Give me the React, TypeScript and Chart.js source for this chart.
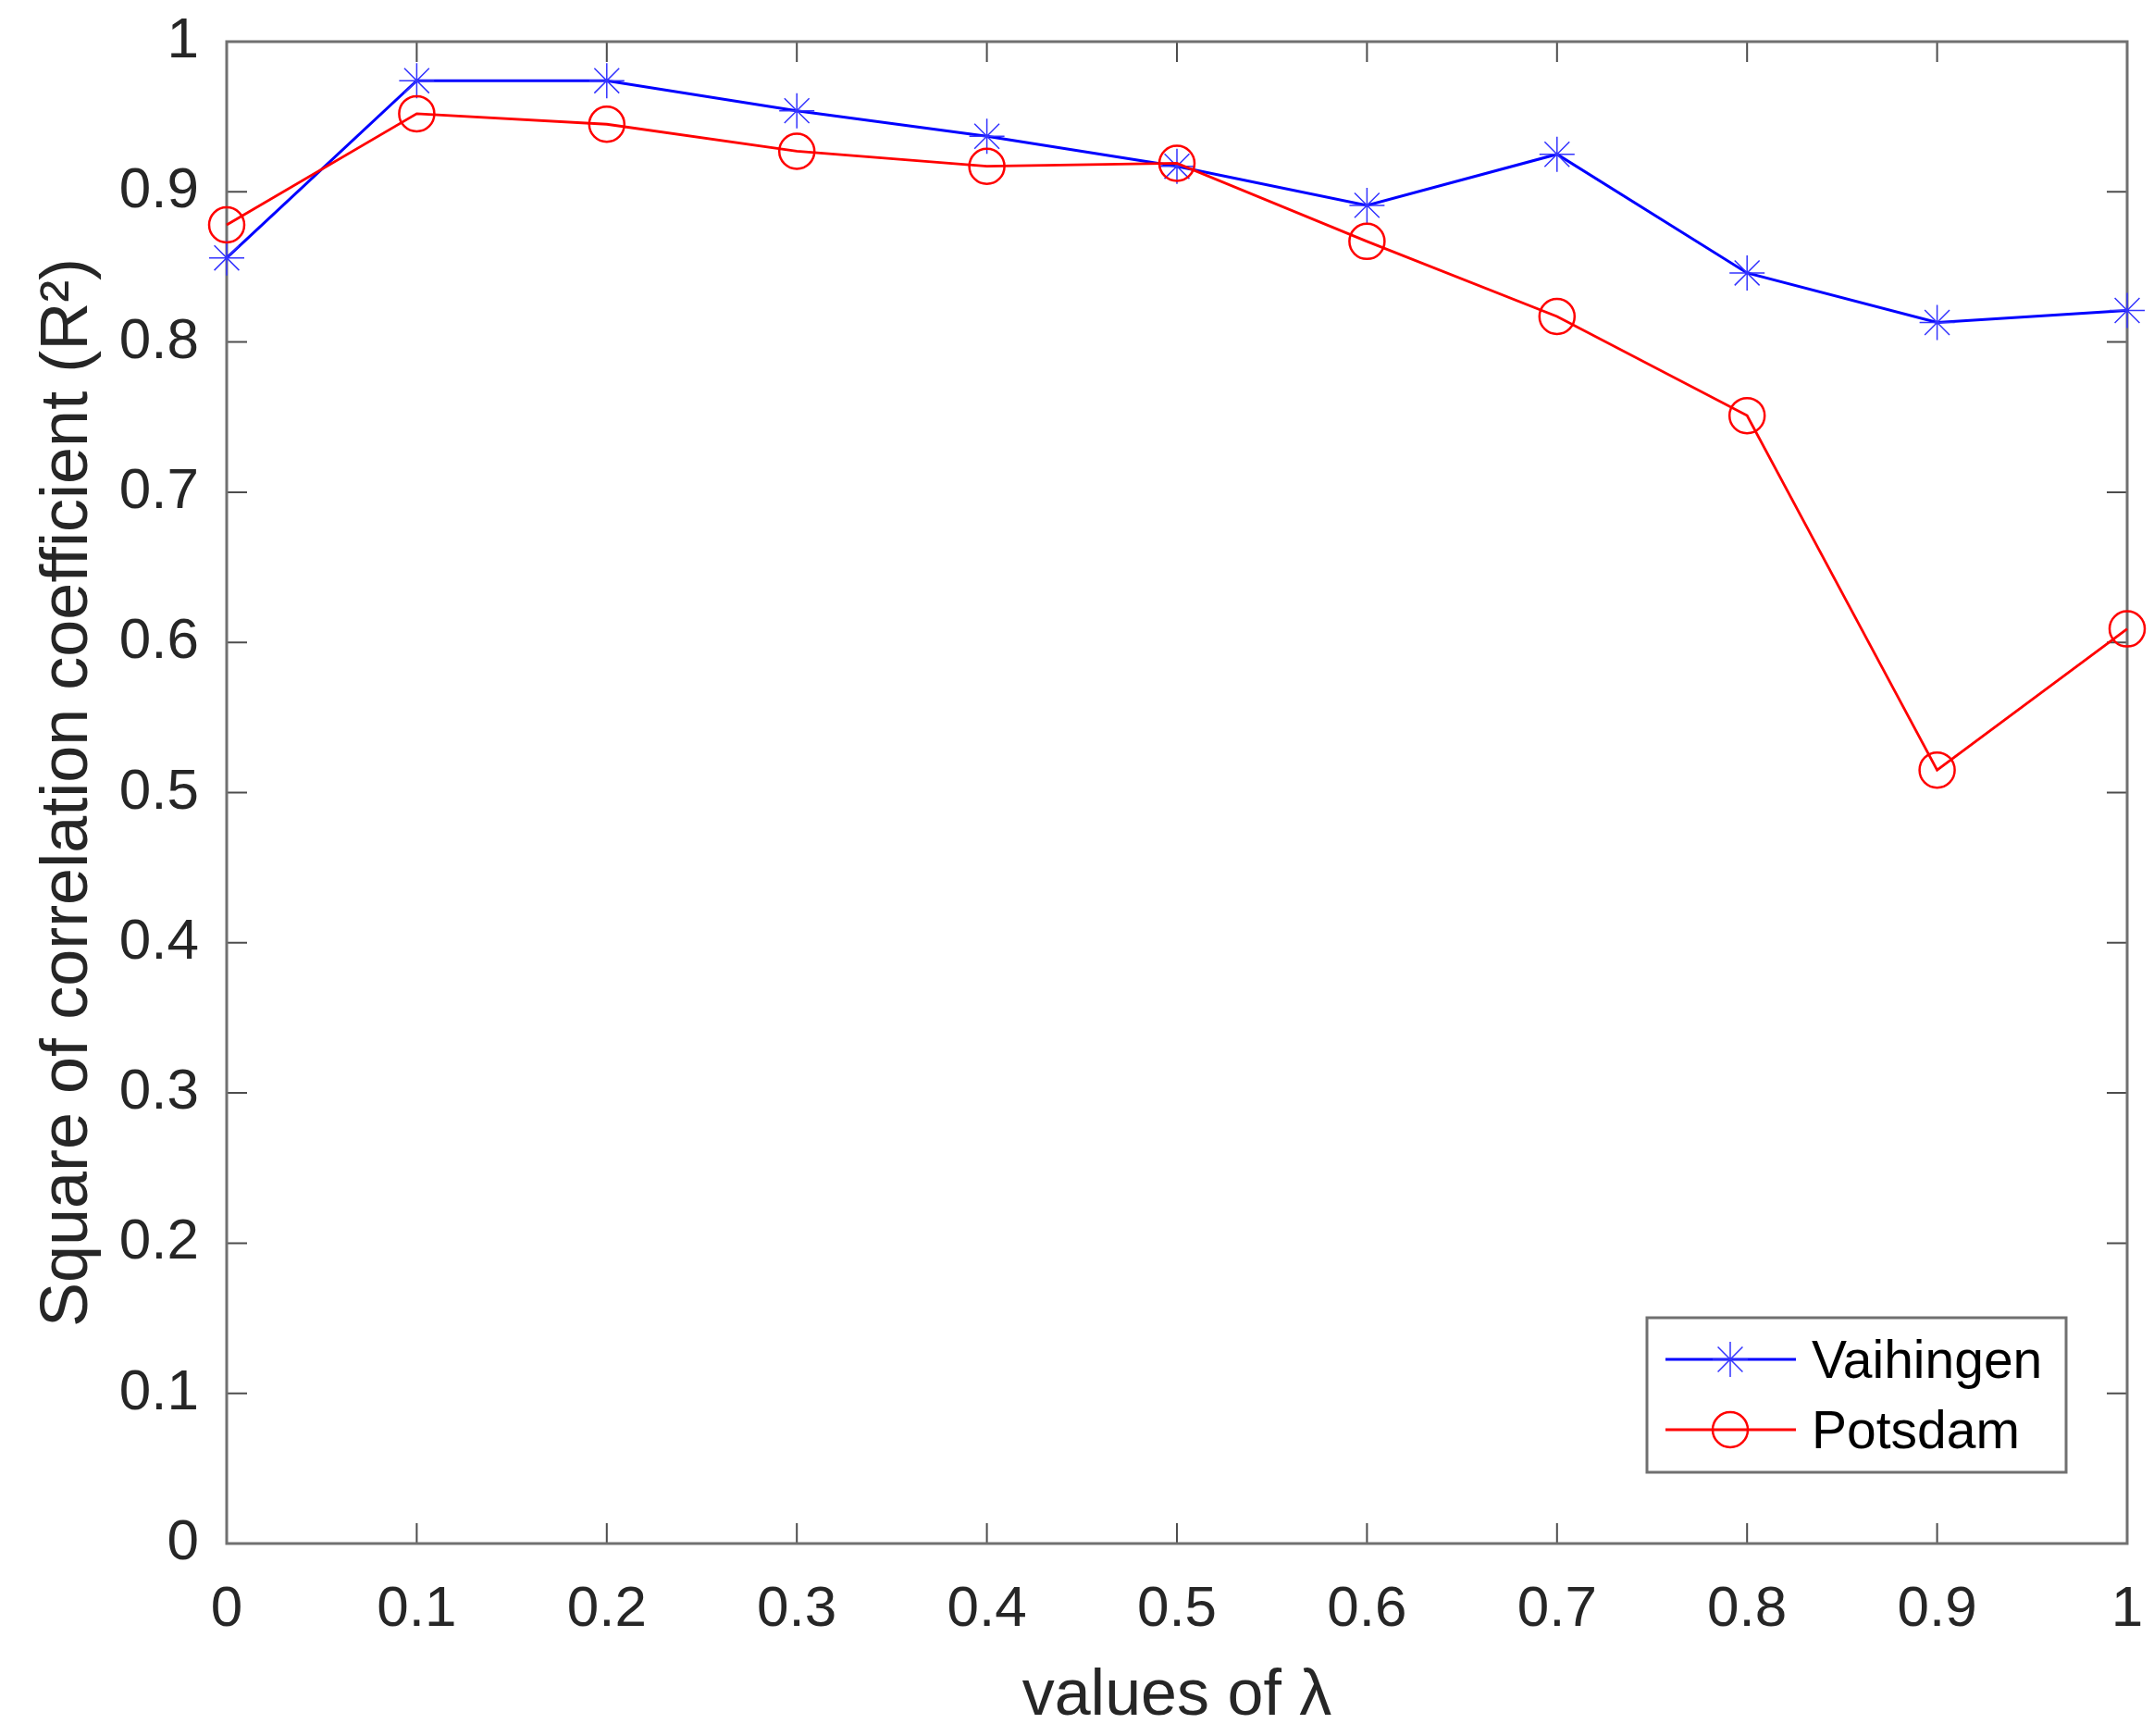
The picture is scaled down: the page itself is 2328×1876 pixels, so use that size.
import { useEffect, useRef } from "react";
import { Chart, registerables, type Plugin } from "chart.js";

Chart.register(...registerables);

const lambdaValues = [0, 0.1, 0.2, 0.3, 0.4, 0.5, 0.6, 0.7, 0.8, 0.9, 1];
const vaihingenR2 = [0.856, 0.974, 0.974, 0.954, 0.937, 0.917, 0.891, 0.925, 0.846, 0.813, 0.821];
const potsdamR2 = [0.878, 0.952, 0.945, 0.927, 0.917, 0.919, 0.867, 0.817, 0.751, 0.515, 0.609];
const xTickValues = [0, 0.1, 0.2, 0.3, 0.4, 0.5, 0.6, 0.7, 0.8, 0.9, 1];
const yTickValues = [0, 0.1, 0.2, 0.3, 0.4, 0.5, 0.6, 0.7, 0.8, 0.9, 1];
const seriesNames = ["Vaihingen", "Potsdam"];

const W = 2328;
const H = 1876;
const FONT = '"Liberation Sans", Arial, Helvetica, sans-serif';
const TEXT = "#262626";

function drawStar(ctx: CanvasRenderingContext2D, x: number, y: number, r: number) {
  ctx.beginPath();
  ctx.moveTo(x - r, y);
  ctx.lineTo(x + r, y);
  ctx.moveTo(x, y - r);
  ctx.lineTo(x, y + r);
  const d = r * Math.SQRT1_2;
  ctx.moveTo(x - d, y - d);
  ctx.lineTo(x + d, y + d);
  ctx.moveTo(x - d, y + d);
  ctx.lineTo(x + d, y - d);
  ctx.stroke();
}

// box round the plot with inward ticks on all four sides (MATLAB style)
const axisBox: Plugin<"line"> = {
  id: "axisBox",
  beforeDatasetsDraw(chart) {
    const { ctx, chartArea: a, scales } = chart;
    ctx.save();
    ctx.strokeStyle = "#4d4d4d";
    ctx.lineWidth = 2;
    ctx.beginPath();
    xTickValues.forEach((v) => {
      const x = scales.x.getPixelForValue(v);
      ctx.moveTo(x, a.bottom);
      ctx.lineTo(x, a.bottom - 22);
      ctx.moveTo(x, a.top);
      ctx.lineTo(x, a.top + 22);
    });
    yTickValues.forEach((v) => {
      const y = scales.y.getPixelForValue(v);
      ctx.moveTo(a.left, y);
      ctx.lineTo(a.left + 22, y);
      ctx.moveTo(a.right, y);
      ctx.lineTo(a.right - 22, y);
    });
    ctx.stroke();
    ctx.strokeStyle = "#707070";
    ctx.lineWidth = 3;
    ctx.strokeRect(a.left, a.top, a.right - a.left, a.bottom - a.top);
    ctx.restore();
  },
};

const boxLegend: Plugin<"line"> = {
  id: "boxLegend",
  afterDraw(chart) {
    const { ctx, chartArea: a } = chart;
    const w = 453;
    const h = 167;
    const x0 = a.right - 66 - w;
    const y0 = a.bottom - 77 - h;
    ctx.save();
    ctx.fillStyle = "#fff";
    ctx.fillRect(x0, y0, w, h);
    ctx.strokeStyle = "#707070";
    ctx.lineWidth = 3;
    ctx.strokeRect(x0, y0, w, h);
    chart.data.datasets.forEach((ds: any, i) => {
      const y = y0 + 45 + i * 76;
      ctx.strokeStyle = ds.borderColor;
      ctx.lineWidth = 3;
      ctx.beginPath();
      ctx.moveTo(x0 + 20, y);
      ctx.lineTo(x0 + 161, y);
      ctx.stroke();
      if (ds.pointStyle === "star") {
        ctx.strokeStyle = ds.pointBorderColor;
        ctx.lineWidth = 1.5;
        drawStar(ctx, x0 + 90, y, 19);
      } else {
        ctx.lineWidth = 2.5;
        ctx.beginPath();
        ctx.arc(x0 + 90, y, 19, 0, Math.PI * 2);
        ctx.stroke();
      }
      ctx.fillStyle = "#000";
      ctx.font = `57px ${FONT}`;
      ctx.textAlign = "left";
      ctx.textBaseline = "middle";
      ctx.fillText(ds.label, x0 + 178, y + 4);
    });
    ctx.restore();
  },
};

export default function App() {
  const canvasRef = useRef<HTMLCanvasElement>(null);

  useEffect(() => {
    document.body.style.margin = "0";
    if (!canvasRef.current) return;

    const chart = new Chart(canvasRef.current, {
      type: "line",
      data: {
        datasets: [
          {
            label: seriesNames[0],
            data: lambdaValues.map((x, i) => ({ x, y: vaihingenR2[i] })),
            borderColor: "#0000ff",
            borderWidth: 3,
            pointStyle: "star",
            pointRadius: 19,
            pointBorderWidth: 1.5,
            pointBorderColor: "#3333ff",
            pointBackgroundColor: "rgba(0,0,0,0)",
            clip: false,
            order: 1,
          },
          {
            label: seriesNames[1],
            data: lambdaValues.map((x, i) => ({ x, y: potsdamR2[i] })),
            borderColor: "#ff0000",
            borderWidth: 2.8,
            pointStyle: "circle",
            pointRadius: 19,
            pointBorderWidth: 2.5,
            pointBorderColor: "#ff0000",
            pointBackgroundColor: "rgba(0,0,0,0)",
            clip: false,
            order: 0,
          },
        ],
      },
      options: {
        responsive: false,
        devicePixelRatio: 1,
        animation: false,
        layout: { padding: { left: 0, top: 45, right: 29, bottom: 0 } },
        plugins: {
          legend: { display: false },
          tooltip: { enabled: false },
        },
        elements: { line: { tension: 0 } },
        scales: {
          x: {
            type: "linear",
            min: 0,
            max: 1,
            afterBuildTicks: (scale) => {
              scale.ticks = xTickValues.map((value) => ({ value }));
            },
            afterFit: (scale) => {
              scale.height = 208;
              scale.paddingLeft = 0;
              scale.paddingRight = 0;
            },
            grid: { display: false, drawTicks: false },
            border: { display: false },
            ticks: {
              padding: 35,
              color: TEXT,
              font: { family: FONT, size: 62 },
              maxRotation: 0,
              callback: (v) => String(v),
            },
            title: {
              display: true,
              text: "values of λ",
              color: TEXT,
              font: { family: FONT, size: 70 },
              padding: { top: 0, bottom: 0 },
            },
          },
          y: {
            type: "linear",
            min: 0,
            max: 1,
            afterBuildTicks: (scale) => {
              scale.ticks = yTickValues.map((value) => ({ value }));
            },
            afterFit: (scale) => {
              scale.width = 245;
              scale.paddingTop = 0;
              scale.paddingBottom = 0;
            },
            grid: { display: false, drawTicks: false },
            border: { display: false },
            ticks: {
              padding: 30,
              color: TEXT,
              font: { family: FONT, size: 62 },
              callback: (v) => String(v),
            },
            title: {
              display: true,
              text: "Square of correlation coefficient (R²)",
              color: TEXT,
              font: { family: FONT, size: 72 },
              padding: { top: 31, bottom: 0 },
            },
          },
        },
      },
      plugins: [axisBox, boxLegend],
    });

    return () => {
      chart.destroy();
    };
  }, []);

  return (
    <div style={{ width: W, height: H, background: "#fff" }}>
      <canvas ref={canvasRef} width={W} height={H} />
    </div>
  );
}
